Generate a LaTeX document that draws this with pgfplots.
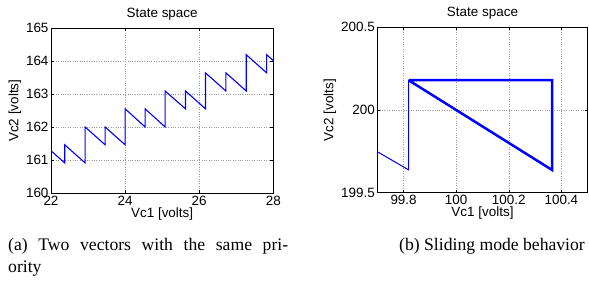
\documentclass[border=0pt]{standalone}
\usepackage{pgfplots}
\pgfplotsset{compat=1.18}
\usepackage{fontspec}
\setmainfont{Liberation Sans}
\newfontfamily\capfont{Liberation Serif}
\begin{document}
\begin{tikzpicture}[x=1bp,y=1bp]
\path[use as bounding box] (0bp,0bp) rectangle (589bp,293bp);
\pgfplotsset{
 every axis/.append style={
  scale only axis,
  anchor=south west,
  /pgf/number format/assume math mode=true,
  /pgf/number format/fixed,
  scaled ticks=false,
  grid=major,
  major grid style={dotted, black!40, line width=0.5bp},
  tick align=inside, major tick length=3bp,
  tick style={black, line width=0.5bp},
  axis line style={line width=0.8bp},
  tick label style={font=\fontsize{13.5}{15}\selectfont},
  label style={font=\fontsize{13.5}{15}\selectfont},
  title style={font=\fontsize{13.5}{15}\selectfont, yshift=-1.5bp},
  title={State space},
  xlabel={Vc1 [volts]}, ylabel={Vc2 [volts]},
  xlabel style={yshift=4.5bp},
  ylabel style={yshift=-2bp},
  xticklabel style={yshift=1bp},
  yticklabel style={xshift=1bp},
 }
}
\begin{axis}[at={(51bp,99.7bp)}, width=222.3bp, height=165bp,
  xmin=22, xmax=28, ymin=160, ymax=165,
  xtick={22,24,26,28}, ytick={160,161,162,163,164,165}]
\addplot[blue, line width=1.1bp] coordinates {
(22,161.29) (22.37,160.92) (22.37,161.47) (22.92,160.92) (22.92,162.01)
(23.46,161.47) (23.46,162.01) (24.0,161.47) (24.0,162.56) (24.54,162.01)
(24.54,162.56) (25.08,162.01) (25.08,163.10) (25.63,162.56) (25.63,163.10)
(26.17,162.56) (26.17,163.65) (26.72,163.10) (26.72,163.65) (27.27,163.10)
(27.27,164.20) (27.82,163.65) (27.82,164.20) (28,164.02)};
\end{axis}
\begin{axis}[at={(377.3bp,100.3bp)}, width=210.4bp, height=165.4bp,
  xmin=99.7, xmax=100.5, ymin=199.5, ymax=200.5,
  xtick={99.8,100,100.2,100.4}, ytick={199.5,200,200.5},
  /pgf/number format/precision=1]
\addplot[blue, line width=1bp] coordinates {
(99.7,199.748) (99.819,199.638) (99.819,200.18)};
\addplot[blue, line width=2.5bp, line join=miter] coordinates {
(99.819,200.18) (100.365,200.18) (100.365,199.637) (99.819,200.18)};
\end{axis}
\node[anchor=base west, inner sep=0, font=\capfont\fontsize{17.7}{21}\selectfont] at (8bp,42bp)
  {\makebox[280bp][s]{(a) Two vectors with the same pri-}};
\node[anchor=base west, inner sep=0, font=\capfont\fontsize{17.7}{21}\selectfont] at (8bp,21bp)
  {ority};
\node[anchor=base west, inner sep=0, font=\capfont\fontsize{17.7}{21}\selectfont] at (399bp,42bp)
  {(b) Sliding mode behavior};
\end{tikzpicture}
\end{document}
